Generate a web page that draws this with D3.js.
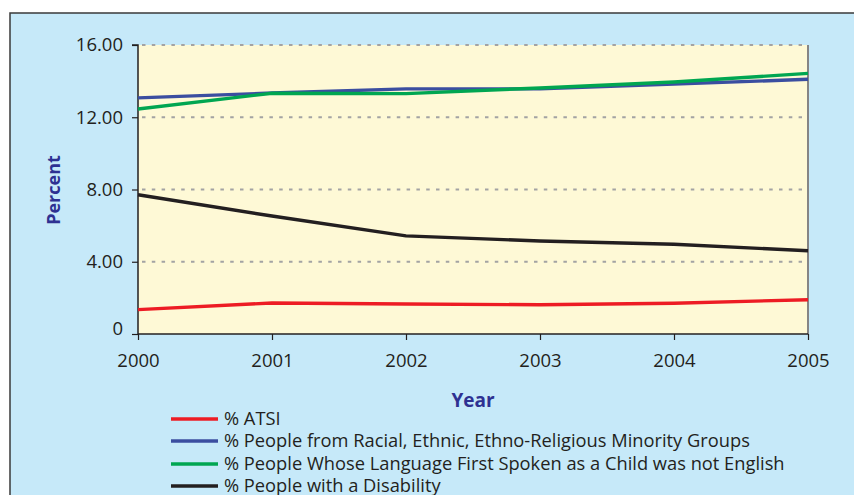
<!DOCTYPE html>
<html>
<head>
<script src="https://d3js.org/d3.v7.min.js"></script>
<style>
  body { margin: 0; background: #fff; }
  svg text { font-family: 'Open Sans', sans-serif; }
</style>
</head>
<body>
<svg width="854" height="495"></svg>
<script>
// DATA ========================================================
const years = [2000, 2001, 2002, 2003, 2004, 2005];
const yTicks = [0, 4, 8, 12, 16];
const atsi = [1.35, 1.72, 1.66, 1.62, 1.70, 1.90];
const minority = [13.07, 13.34, 13.57, 13.57, 13.84, 14.10];
const language = [12.46, 13.33, 13.31, 13.62, 13.95, 14.43];
const disability = [7.71, 6.53, 5.43, 5.15, 4.97, 4.61];
const seriesNames = [
  "% ATSI",
  "% People from Racial, Ethnic, Ethno-Religious Minority Groups",
  "% People Whose Language First Spoken as a Child was not English",
  "% People with a Disability"
];
const seriesColors = ["#ed1c24", "#3b4ea0", "#00a651", "#231f20"];
const seriesValues = [atsi, minority, language, disability];

// SETUP =======================================================
const svg = d3.select("svg");
const textColor = "#231f20";
const titleColor = "#2e3192";

svg.append("rect")
  .attr("x", 10).attr("y", 13)
  .attr("width", 860).attr("height", 500)
  .attr("fill", "#c6e9f9")
  .attr("stroke", "#3a3a3a").attr("stroke-width", 1.5);

const x = d3.scaleLinear().domain([2000, 2005]).range([138, 808]);
const y = d3.scaleLinear().domain([0, 16]).range([334, 45]);

// plot background
svg.append("rect")
  .attr("x", x(2000)).attr("y", y(16))
  .attr("width", x(2005) - x(2000)).attr("height", y(0) - y(16))
  .attr("fill", "#fef9d6");

// gridlines
svg.append("g")
  .selectAll("line")
  .data(yTicks.filter(d => d > 0))
  .join("line")
  .attr("x1", x(2000) + 4).attr("x2", x(2005) - 6)
  .attr("y1", d => y(d)).attr("y2", d => y(d))
  .attr("stroke", "#a3a3a3").attr("stroke-width", 2)
  .attr("stroke-dasharray", "3.5,6.3");

// right edge
svg.append("line")
  .attr("x1", x(2005)).attr("x2", x(2005))
  .attr("y1", y(16)).attr("y2", y(0))
  .attr("stroke", "#858585").attr("stroke-width", 2);

// AXES ========================================================
const yAxis = svg.append("g")
  .attr("transform", `translate(${x(2000)},0)`)
  .call(d3.axisLeft(y).tickValues(yTicks).tickSize(6).tickPadding(9)
    .tickFormat(d => d === 0 ? "0" : d3.format(".2f")(d)));

const xAxis = svg.append("g")
  .attr("transform", `translate(0,${y(0)})`)
  .call(d3.axisBottom(x).tickValues(years).tickSize(6).tickPadding(14)
    .tickFormat(d3.format("d")));

[yAxis, xAxis].forEach(g => {
  g.select(".domain").attr("stroke", textColor).attr("stroke-width", 1.5);
  g.selectAll(".tick line").attr("stroke", textColor).attr("stroke-width", 1.2);
  g.selectAll(".tick text")
    .attr("fill", textColor)
    .attr("font-size", 18.5)
    .style("font-family", "'Open Sans', sans-serif");
});
yAxis.select(".domain").attr("d", `M-6,${y(16)}H0V${y(0)}`);
xAxis.select(".domain").attr("d", `M${x(2000)},0H${x(2005)}`);
// the zero label sits a little above its tick
yAxis.selectAll(".tick text").filter(d => d === 0).attr("y", -5);

// titles
svg.append("text")
  .attr("transform", "translate(60,190) rotate(-90)")
  .attr("text-anchor", "middle")
  .attr("fill", titleColor)
  .attr("font-size", 18).attr("font-weight", "bold")
  .text("Percent");

svg.append("text")
  .attr("x", 473).attr("y", 407)
  .attr("text-anchor", "middle")
  .attr("fill", titleColor)
  .attr("font-size", 19).attr("font-weight", "bold")
  .text("Year");

// LINES =======================================================
const line = d3.line()
  .x((d, i) => x(years[i]))
  .y(d => y(d));

svg.append("g")
  .selectAll("path")
  .data(seriesValues)
  .join("path")
  .attr("d", line)
  .attr("fill", "none")
  .attr("stroke", (d, i) => seriesColors[i])
  .attr("stroke-width", 3.4)
  .attr("stroke-linejoin", "round");

// LEGEND ======================================================
const legendY = [419, 441, 464, 486];
const legend = svg.append("g")
  .selectAll("g")
  .data(seriesNames)
  .join("g")
  .attr("transform", (d, i) => `translate(171,${legendY[i]})`);

legend.append("line")
  .attr("x1", 0).attr("x2", 47)
  .attr("stroke", (d, i) => seriesColors[i])
  .attr("stroke-width", 3.4);

legend.append("text")
  .attr("x", 53).attr("dy", "0.35em")
  .attr("fill", textColor)
  .attr("font-size", 18.3)
  .text(d => d);
</script>
</body>
</html>
